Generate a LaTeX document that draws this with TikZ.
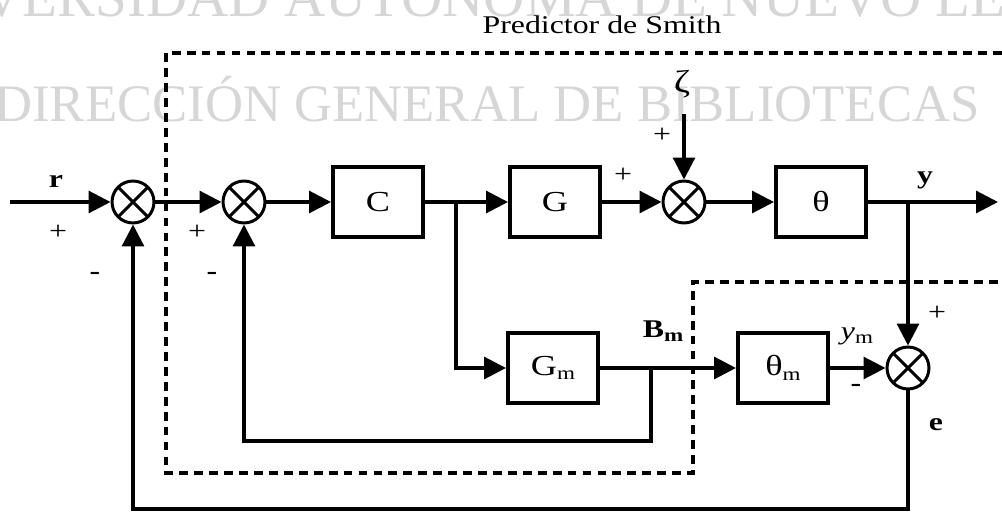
\documentclass[tikz,border=0pt]{standalone}
\usepackage{fontspec}
\setmainfont{Liberation Serif}
\newfontfamily\labelfont{Liberation Serif}[FakeStretch=1.25]
\usetikzlibrary{arrows.meta}
\definecolor{wmgray}{RGB}{214,214,214}
\newcommand{\lowm}{\raisebox{-0.35ex}{\fontsize{10.5}{12}\selectfont m}}

\begin{document}
\begin{tikzpicture}[
  x=0.02cm, y=-0.02cm,
  lbl/.style={font=\labelfont\fontsize{14.5}{17}\selectfont, inner sep=1pt},
  box/.style={rectangle, draw, line width=2.3pt, minimum width=1.8cm, minimum height=1.4cm, font=\labelfont\fontsize{16.5}{18}\selectfont},
  sum/.style={circle, draw, line width=1.7pt, minimum size=0.84cm, inner sep=0pt,
    path picture={\draw[line width=1.7pt] (path picture bounding box.north west) -- (path picture bounding box.south east)
      (path picture bounding box.north east) -- (path picture bounding box.south west);}},
  arr/.style={-{Triangle[length=12.5pt, width=12.5pt]}, line width=1.8pt},
  frame/.style={line width=2pt, dash pattern=on 5pt off 3.5pt},
  wmark/.style={text=wmgray, inner sep=0pt, anchor=base}
]
  \useasboundingbox (0,0) rectangle (1002,513);
  \clip (0,0) rectangle (1002,513);

  \node[wmark, font=\fontsize{32.5}{34}\selectfont] (wm1) at (484,17) {UNIVERSIDAD AUTÓNOMA DE NUEVO LEÓN};
  \node[wmark, font=\fontsize{30}{32}\selectfont] (wm2) at (487,122) {DIRECCIÓN GENERAL DE BIBLIOTECAS};

  \node[lbl] (title) at (602,25) {Predictor de Smith};

  \node[sum] (s1) at (133,202) {};
  \node[sum] (s2) at (244,202) {};
  \node[box] (C) at (378,202) {C};
  \node[box] (G) at (555,202) {G};
  \node[sum] (s3) at (684,202) {};
  \node[box] (th) at (821,202) {θ};
  \node[box] (Gm) at (553,368) {G\lowm};
  \node[box] (thm) at (783,368) {θ\lowm};
  \node[sum] (s4) at (908,368) {};
  \node[lbl, font=\labelfont\fontsize{18}{20}\selectfont] (zeta) at (682,84) {ζ};

  \coordinate (in) at (10,202);
  \coordinate (bc) at (456,202);
  \coordinate (yb) at (908,202);
  \coordinate (out) at (998,202);
  \coordinate (bm) at (651,368);
  \coordinate (fbin) at (651,441);
  \coordinate (fbout) at (908,509);

  \draw[frame] (1002,53) -| (166,473) -| (693,282) -- (1002,282);

  \draw[arr] (in) -- (s1);
  \draw[arr] (s1) -- (s2);
  \draw[arr] (s2) -- (C);
  \draw[arr] (C) -- (G);
  \draw[arr] (bc) |- (Gm);
  \draw[arr] (G) -- (s3);
  \draw[arr, shorten <=8pt] (zeta.south -| s3) -- (s3);
  \draw[arr] (s3) -- (th);
  \draw[arr] (th) -- (out);
  \draw[arr] (yb) -- (s4);
  \draw[arr] (Gm) -- (thm);
  \draw[arr] (bm) -- (fbin) -| (s2);
  \draw[arr] (thm) -- (s4);
  \draw[arr] (s4) -- (fbout) -| (s1);

  \node[lbl] (rlab) at (56,181) {\textbf{r}};
  \node[lbl] (p1) at (58,232) {+};
  \node[lbl] (m1) at (95,276) {\textbf{-}};
  \node[lbl] (p2) at (197,232) {+};
  \node[lbl] (m2) at (212,276) {\textbf{-}};
  \node[lbl] (p3) at (623,175) {+};
  \node[lbl] (p4) at (662,135) {+};
  \node[lbl] (ylab) at (925,180) {\textbf{y}};
  \node[lbl] (bmlab) at (663,331) {\textbf{B\lowm}};
  \node[lbl] (ymlab) at (857,336) {\textit{y}\lowm};
  \node[lbl] (p5) at (937,313) {+};
  \node[lbl] (m3) at (856,388) {\textbf{-}};
  \node[lbl] (elab) at (936,425) {\textbf{e}};
\end{tikzpicture}
\end{document}
